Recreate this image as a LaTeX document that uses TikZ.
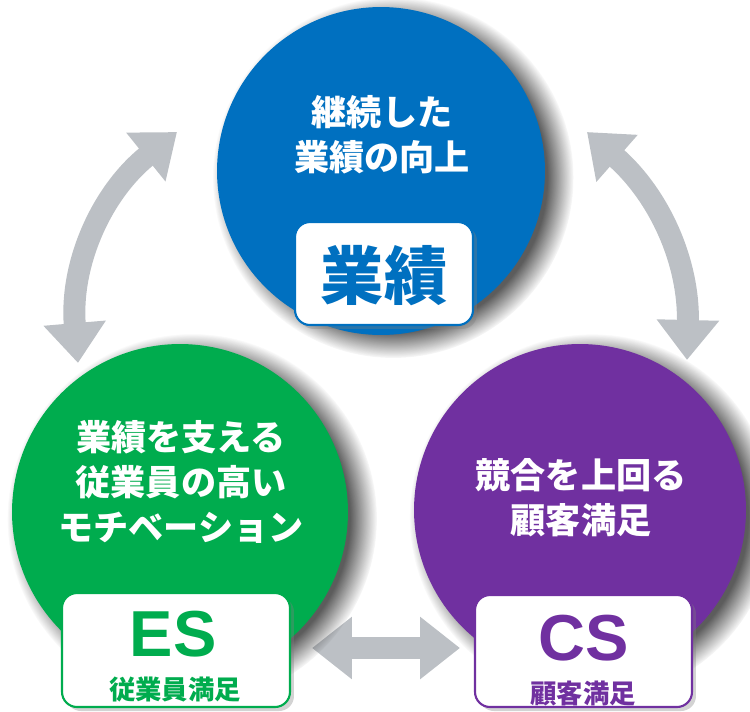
\documentclass[tikz,border=0pt]{standalone}
\usepackage{fontspec}
\newfontfamily\jpfont{Noto Sans CJK JP}
\newfontfamily\latfont{Liberation Sans}
\usetikzlibrary{shadows,arrows.meta}
\definecolor{gyoblue}{RGB}{0,112,192}
\definecolor{esgreen}{RGB}{0,172,78}
\definecolor{cspurple}{RGB}{112,48,160}
\definecolor{arrowgray}{RGB}{188,192,197}

\begin{document}
\begin{tikzpicture}[x=0.02cm,y=-0.02cm,
                bigcircle/.style={circle,inner sep=0pt,circular drop shadow={shadow xshift=0.22cm,shadow yshift=-0.12cm,shadow scale=1.1,fill=black!80,opacity=0.8}},
                labelbox/.style={fill=white,line width=1.2pt,rounded corners=0.3cm,inner sep=0pt,drop shadow={shadow xshift=0.08cm,shadow yshift=-0.08cm,opacity=0.35}},
                circtext/.style={text=white,align=center,font=\jpfont\bfseries\fontsize{20}{25.5}\selectfont},
                loopar/.style={line width=0.44cm,arrowgray,{Triangle[width=1.2cm,length=0.8cm]}-{Triangle[width=1.2cm,length=0.8cm]}}]
                \useasboundingbox (0,0) rectangle (750,711);
                \coordinate (sw) at (78,363);
                \coordinate (nw) at (177,132);
                \coordinate (ne) at (587,132);
                \coordinate (se) at (687,360);
                \coordinate (bl) at (312,648);
                \coordinate (br) at (460,648);
                \draw[loopar] (sw) to[bend left=28] (nw);
                \draw[loopar] (ne) to[bend left=25] (se);
                \draw[loopar] (bl) -- (br);
                \node[bigcircle,fill=gyoblue,minimum size=6.56cm] (gyo) at (381,171) {};
                \node[bigcircle,fill=esgreen,minimum size=6.72cm] (es) at (180,512) {};
                \node[bigcircle,fill=cspurple,minimum size=6.64cm] (cs) at (580,510) {};
                \node[circtext] (gyotxt) at (382,135) {継続した\\業績の向上};
                \node[circtext] (estxt) at (181,482) {業績を支える\\従業員の高い\\モチベーション};
                \node[circtext] (cstxt) at (581,498) {競合を上回る\\顧客満足};
                \node[labelbox,draw=gyoblue,minimum width=3.56cm,minimum height=2.06cm] (gyobox) at (384,273.5) {};
                \node[labelbox,draw=esgreen,minimum width=4.56cm,minimum height=2.28cm] (esbox) at (176,650) {};
                \node[labelbox,draw=cspurple,minimum width=4.34cm,minimum height=2.24cm] (csbox) at (583.5,651) {};
                \node[text=gyoblue,font=\jpfont\bfseries\fontsize{36}{40}\selectfont] (gyoword) at (384,276) {業績};
                \node[text=esgreen,font=\latfont\bfseries\fontsize{37}{40}\selectfont] (esword) at (173,634) {ES};
                \node[text=esgreen,font=\jpfont\bfseries\fontsize{15}{18}\selectfont] (esname) at (175,690) {従業員満足};
                \node[text=cspurple,font=\latfont\bfseries\fontsize{37}{40}\selectfont] (csword) at (584,638) {CS};
                \node[text=cspurple,font=\jpfont\bfseries\fontsize{15}{18}\selectfont] (csname) at (583,693) {顧客満足};
            \end{tikzpicture}
\end{document}
